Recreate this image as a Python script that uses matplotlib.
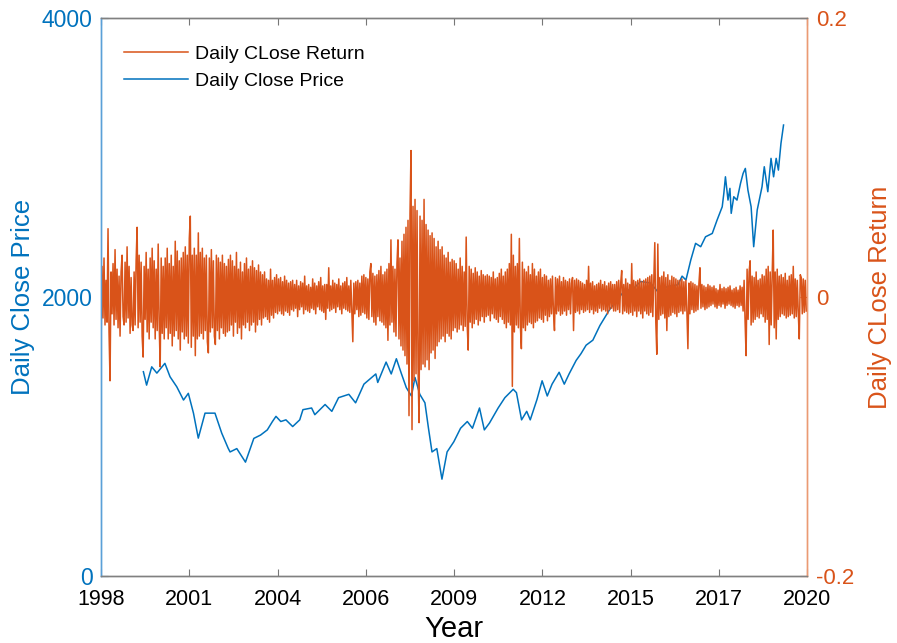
import numpy as np
import matplotlib.pyplot as plt

plt.rcParams['font.family'] = ['Liberation Sans', 'DejaVu Sans']

# close price, sampled along the series (decimal year, index level)
price_year = [1999.32, 1999.42, 1999.58, 1999.74, 1999.99, 2000.15, 2000.36, 2000.57,
              2000.72, 2000.88, 2001.03, 2001.24, 2001.55, 2001.76, 2001.96, 2002.02,
              2002.23, 2002.50, 2002.76, 2002.97, 2003.18, 2003.34, 2003.45, 2003.60,
              2003.76, 2003.97, 2004.19, 2004.29, 2004.56, 2004.66, 2004.98, 2005.19,
              2005.40, 2005.72, 2005.93, 2006.19, 2006.56, 2006.62, 2006.88, 2007.04,
              2007.20, 2007.36, 2007.51, 2007.67, 2007.78, 2007.93, 2008.09, 2008.20,
              2008.31, 2008.46, 2008.62, 2008.78, 2008.99, 2009.20, 2009.41, 2009.57,
              2009.79, 2009.94, 2010.10, 2010.37, 2010.58, 2010.84, 2010.94, 2011.10,
              2011.26, 2011.37, 2011.58, 2011.74, 2011.90, 2012.05, 2012.27, 2012.43,
              2012.58, 2012.80, 2012.95, 2013.11, 2013.32, 2013.54, 2013.86, 2014.28,
              2014.60, 2014.81, 2015.12, 2015.34, 2015.65, 2015.97, 2016.10, 2016.22,
              2016.37, 2016.52, 2016.68, 2016.83, 2017.04, 2017.19, 2017.35, 2017.40,
              2017.45, 2017.53, 2017.59, 2017.63, 2017.71, 2017.81, 2017.92, 2018.00,
              2018.07, 2018.15, 2018.21, 2018.25, 2018.33, 2018.44, 2018.59, 2018.66,
              2018.77, 2018.87, 2018.95, 2019.03, 2019.10, 2019.18, 2019.26]
price_val = [1465, 1369, 1500, 1455, 1525, 1429, 1357, 1262,
             1310, 1168, 989, 1168, 1168, 1025, 917, 890,
             914, 817, 987, 1011, 1048, 1108, 1145, 1108,
             1120, 1072, 1120, 1193, 1205, 1157, 1230, 1181,
             1279, 1303, 1242, 1376, 1449, 1388, 1534, 1449,
             1558, 1449, 1351, 1291, 1424, 1303, 1242, 1060,
             890, 914, 695, 890, 963, 1060, 1108, 1060,
             1205, 1048, 1097, 1205, 1279, 1339, 1315, 1120,
             1181, 1120, 1266, 1400, 1291, 1376, 1461, 1376,
             1449, 1546, 1594, 1655, 1691, 1796, 1917, 2039,
             2064, 2112, 2100, 2039, 2076, 2088, 2150, 2122,
             2265, 2385, 2361, 2432, 2456, 2552, 2647, 2743,
             2862, 2695, 2779, 2600, 2719, 2695, 2815, 2886,
             2922, 2767, 2695, 2647, 2361, 2624, 2791, 2934,
             2755, 2994, 2862, 2994, 2910, 3102, 3233]

# daily close return in thousandths, 32 samples per year, one row per year
ret_1998 = [-38, 22, -15, 28, -20, 12, -18, 49, -25, -60, 18, -12, 24, -20, 34, -16,
            20, -22, 15, -28, 18, 30, -14, -20, 25, -18, 36, -15, 22, -26, 14, -20]
ret_1999 = [-24, 18, -20, 26, 50, -22, 30, -18, 25, -28, -43, 22, -16, 32, -25, 20,
            -30, 28, -18, 35, -22, 26, -30, 20, -24, 38, -20, -50, 28, -26, 22, -30]
ret_2000 = [28, -22, 35, -30, 24, -26, 30, -35, 22, -28, 40, -24, 33, -30, 26, -38,
            28, -25, 32, -30, 36, -28, 30, -33, 42, 58, -36, 30, -28, 35, -42, 30]
ret_2001 = [-30, 46, -28, 32, -26, 35, -30, 28, -24, 30, -32, -40, 28, -25, 34, -22,
            26, -28, -34, 30, -24, 28, -30, 25, -22, 30, -26, 24, -28, 22, -25, 27]
ret_2002 = [-24, 30, -20, 26, -28, 22, -18, 32, -26, 20, -22, 25, -30, 18, -20, 24,
            -22, 28, -18, 20, -24, 22, -20, 26, -18, 21, -25, 19, -20, 23, -16, 18]
ret_2003 = [-20, 16, -15, 18, -14, 13, -16, 12, -18, 20, -13, 12, -15, 14, -11, 16,
            -12, 13, -10, 14, -12, 11, -13, 15, -10, 12, -11, 10, -13, 11, -9, 12]
ret_2004 = [-10, 9, -8, 12, -14, 8, -9, 11, -7, 10, -12, 15, -9, 8, -10, 9,
            -11, 7, -8, 13, -9, 10, -12, 8, -7, 11, -9, 14, -10, 8, -11, 9]
ret_2005 = [-16, 9, -8, 21, -10, 8, -9, 12, -8, 10, -11, 9, -7, 13, -9, 8,
            -12, 10, -8, 11, -9, 14, -10, 8, -11, 12, -9, -32, 10, -12, 11, -9]
ret_2006 = [12, -14, 10, -13, 15, -11, 16, -12, 14, -15, 13, -16, 18, 24, -14, 17,
            -18, 15, -20, 16, -14, 19, -17, 22, -18, 16, -20, 18, -22, 20, -31, 24]
ret_2007 = [-20, 41, -18, 22, -25, 20, -28, 24, 41, -30, 28, -35, 40, -38, 45, -42,
            50, -48, 55, -85, 60, 105, -95, 65, -60, 70, -55, 62, -50, -90, 58, -52]
ret_2008 = [55, -48, 70, -50, 52, -45, 48, -52, 44, -40, 46, -38, 42, -44, 36, -35,
            40, -32, 34, -30, 36, -28, 30, -32, 28, -26, 32, -28, 25, -30, 27, -24]
ret_2009 = [26, -22, 24, -25, 20, -23, 28, -20, 22, -24, 18, -21, 43, -20, -38, 22,
            -18, 20, -22, 17, -19, 21, -16, 18, -20, 15, -17, 19, -14, 16, -18, 15]
ret_2010 = [-14, 16, -13, 15, -17, 14, -12, 18, -15, 13, -16, 14, -18, 17, -14, 20,
            -16, 15, -19, 18, -22, 20, -18, 24, -20, 45, -64, 30, -25, 22, -20, 24]
ret_2011 = [-22, 42, -20, -37, 25, -22, 20, -24, 18, -20, 22, -18, 16, -19, 24, -22,
            20, -18, 15, -17, 18, -15, 20, -16, 14, -18, 16, -13, 15, -17, 12, -14]
ret_2012 = [13, -12, 15, -11, -24, 14, -12, 13, -10, 15, -13, 11, -12, 14, -10, 12,
            -13, 11, -9, 13, -12, 10, 14, -24, 12, -11, 13, -10, 12, -12, 11, -9]
ret_2013 = [10, -11, 9, -10, 12, -9, 22, -11, 10, -9, 11, -12, 8, -10, 9, -11,
            10, -8, 12, -10, 9, -9, 11, -10, 8, -12, 10, -9, 11, -8, 9, -10]
ret_2014 = [9, -10, 11, -9, 12, -11, 10, 19, -12, 9, -10, 13, -11, 10, -12, 9,
            -11, 24, -13, 12, -10, 11, -14, 12, -10, 13, -12, 11, -15, 12, -10, 13]
ret_2015 = [-12, 14, -13, 15, -11, 16, -14, 13, 39, -18, -41, 38, -16, 14, -13, 15,
            -12, 18, -15, 14, -24, 16, -14, 12, -13, 15, -11, 14, -12, 13, -14, 12]
ret_2016 = [-11, 12, -10, 13, -12, 11, -10, 12, -11, -37, 10, -12, 11, -9, 10, -11,
            9, -10, 8, -9, 10, 21, -8, 9, -7, 8, -9, 7, -8, 9, -7, 8]
ret_2017 = [-6, 7, -5, 8, -7, 6, -8, 5, -6, 9, -7, 6, -5, 7, -8, 6,
            -6, 7, -5, 8, -6, 5, -7, 6, -8, 7, -6, 5, -7, 8, -6, 7]
ret_2018 = [-10, 12, -18, -42, 20, -16, 18, 26, -20, 15, -18, 14, -16, 18, -14, 12,
            -15, 13, -12, 16, -14, 15, -18, 20, -16, 22, -34, 18, -20, 16, 48, -22]
ret_2019 = [18, -30, 20, -16, 15, -14, 16, -12, 14, -13, 17, -15, 12, -14, 15, -13,
            16, -12, 22, -15, 13, -14, 12, -11, -30, 16, 14, -12, 13, -11, 12, -10]

ret_rows = [ret_1998, ret_1999, ret_2000, ret_2001, ret_2002, ret_2003, ret_2004, ret_2005,
            ret_2006, ret_2007, ret_2008, ret_2009, ret_2010, ret_2011, ret_2012, ret_2013,
            ret_2014, ret_2015, ret_2016, ret_2017, ret_2018, ret_2019]

tick_labels = ['1998', '2001', '2004', '2006', '2009', '2012', '2015', '2017', '2020']

blue = '#0072BD'
orange = '#D95319'

ret = np.concatenate(ret_rows) / 1000.0
ret_year = 1998 + np.arange(len(ret)) / 32.0

fig = plt.figure(figsize=(8.97, 6.43), dpi=100)
ax1 = fig.add_axes([0.1126, 0.104, 0.7874, 0.868])
ax2 = ax1.twinx()

ln_p, = ax1.plot(price_year, price_val, color=blue, lw=1.1, label='Daily Close Price')
ln_r, = ax2.plot(ret_year, ret, color=orange, lw=1.1, label='Daily CLose Return')

ax1.set_xlim(1998, 2020)
ax1.set_ylim(0, 4000)
ax2.set_ylim(-0.2, 0.2)
ax1.set_xticks(np.linspace(1998, 2020, 9))
ax1.set_xticklabels(tick_labels)
ax1.set_yticks([0, 2000, 4000])
ax2.set_yticks([-0.2, 0, 0.2])
ax2.set_yticklabels(['-0.2', '0', '0.2'])

ax1.tick_params(axis='x', direction='in', length=5, width=0.8, color='#777777',
                labelsize=15.5, pad=9, top=True)
ax1.tick_params(axis='y', direction='in', length=5, width=0.8, colors=blue,
                labelsize=16.5, pad=6)
ax2.tick_params(axis='y', direction='in', length=5, width=0.8, colors=orange,
                labelsize=16, pad=6)

for ax in (ax1, ax2):
    ax.spines['top'].set_color('#808080')
    ax.spines['bottom'].set_color('#808080')
    ax.spines['left'].set_color('#5aa0d8')
    ax.spines['right'].set_color('#eb9a73')
    for s in ax.spines.values():
        s.set_linewidth(1.0)

ax1.set_xlabel('Year', fontsize=21, labelpad=4)
ax1.set_ylabel('Daily Close Price', fontsize=18.5, color=blue, labelpad=5)
ax2.set_ylabel('Daily CLose Return', fontsize=18.5, color=orange, labelpad=10)

ax2.legend([ln_r, ln_p], ['Daily CLose Return', 'Daily Close Price'],
           loc='upper left', bbox_to_anchor=(0.008, 0.983), frameon=False,
           fontsize=14, handlelength=3.3, handletextpad=0.36, labelspacing=0.5)

fig.savefig('out.png', dpi=100)
